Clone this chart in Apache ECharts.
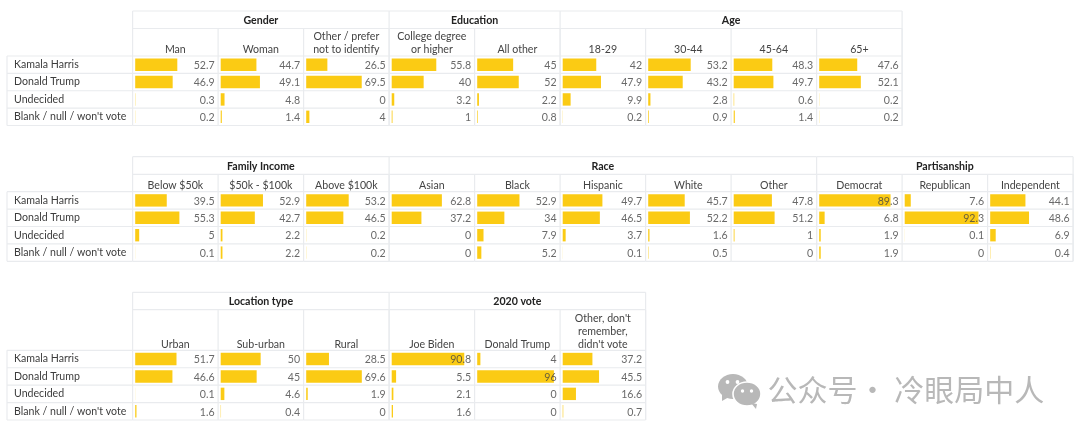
<!DOCTYPE html>
<html>
<head>
<meta charset="utf-8">
<style>html,body{margin:0;padding:0;background:#fff}#c{width:1080px;height:433px}</style>
<script src="https://cdn.jsdelivr.net/npm/echarts@6/dist/echarts.min.js"></script>
</head>
<body>
<div id="c"></div>
<script>
const rowLabels = ["Kamala Harris", "Donald Trump", "Undecided", "Blank / null / won't vote"];

const genderColumns = ["Man", "Woman", "Other / prefer\nnot to identify"];
const genderValues = [[52.7, 46.9, 0.3, 0.2], [44.7, 49.1, 4.8, 1.4], [26.5, 69.5, 0, 4]];
const educationColumns = ["College degree\nor higher", "All other"];
const educationValues = [[55.8, 40, 3.2, 1], [45, 52, 2.2, 0.8]];
const ageColumns = ["18-29", "30-44", "45-64", "65+"];
const ageValues = [[42, 47.9, 9.9, 0.2], [53.2, 43.2, 2.8, 0.9], [48.3, 49.7, 0.6, 1.4], [47.6, 52.1, 0.2, 0.2]];

const incomeColumns = ["Below $50k", "$50k - $100k", "Above $100k"];
const incomeValues = [[39.5, 55.3, 5, 0.1], [52.9, 42.7, 2.2, 2.2], [53.2, 46.5, 0.2, 0.2]];
const raceColumns = ["Asian", "Black", "Hispanic", "White", "Other"];
const raceValues = [[62.8, 37.2, 0, 0], [52.9, 34, 7.9, 5.2], [49.7, 46.5, 3.7, 0.1], [45.7, 52.2, 1.6, 0.5], [47.8, 51.2, 1, 0]];
const partyColumns = ["Democrat", "Republican", "Independent"];
const partyValues = [[89.3, 6.8, 1.9, 1.9], [7.6, 92.3, 0.1, 0], [44.1, 48.6, 6.9, 0.4]];

const locationColumns = ["Urban", "Sub-urban", "Rural"];
const locationValues = [[51.7, 46.6, 0.1, 1.6], [50, 45, 4.6, 0.4], [28.5, 69.6, 1.9, 0]];
const vote2020Columns = ["Joe Biden", "Donald Trump", "Other, don't\nremember,\ndidn't vote"];
const vote2020Values = [[90.8, 5.5, 2.1, 1.6], [4, 96, 0, 0], [37.2, 45.5, 16.6, 0.7]];

const tables = [
  { top: 11, head: 28.5, body: 56, bottom: 125.5, groups: [
    { name: "Gender", columns: genderColumns, values: genderValues },
    { name: "Education", columns: educationColumns, values: educationValues },
    { name: "Age", columns: ageColumns, values: ageValues } ] },
  { top: 156.7, head: 174.3, body: 191.7, bottom: 261.3, groups: [
    { name: "Family Income", columns: incomeColumns, values: incomeValues },
    { name: "Race", columns: raceColumns, values: raceValues },
    { name: "Partisanship", columns: partyColumns, values: partyValues } ] },
  { top: 292.3, head: 309.7, body: 350.3, bottom: 420, groups: [
    { name: "Location type", columns: locationColumns, values: locationValues },
    { name: "2020 vote", columns: vote2020Columns, values: vote2020Values } ] }
];

const FONT = "Lato";
const FS = 10.6;
const LINE = "#e9ebee";
const BAR = "#FBCB14";
const LABEL_X = 7, COL0 = 132.6, COLW = 85.5;

const grids = [], xAxes = [], yAxes = [], series = [], graphic = [];
const line = (x1, y1, x2, y2) => graphic.push({ type: "line", silent: true, z: 0,
  shape: { x1, y1, x2, y2 }, style: { stroke: LINE, lineWidth: 1.2 } });
const text = (t, x, y, o) => graphic.push({ type: "text", silent: true, z: 5, x, y,
  style: Object.assign({ text: t, fontFamily: FONT, fontSize: FS, fill: "#3c3c3c", align: "center" }, o) });

tables.forEach(tb => {
  const rowH = (tb.bottom - tb.body) / rowLabels.length;
  let col = 0, first = true;
  for (let i = 0; i <= rowLabels.length; i++) line(LABEL_X, tb.body + i * rowH, COL0, tb.body + i * rowH);
  line(LABEL_X, tb.body, LABEL_X, tb.bottom);
  line(COL0, tb.top, COL0, tb.bottom);
  tb.groups.forEach(g => {
    const gl = COL0 + col * COLW, gr = gl + g.columns.length * COLW;
    text(g.name, (gl + gr) / 2, (tb.top + tb.head) / 2 + 0.8, { fontWeight: 700, fontSize: 10.6, fill: "#222", verticalAlign: "middle" });
    line(gl, tb.top, gr, tb.top);
    line(gl, tb.head, gr, tb.head);
    line(gr, tb.top, gr, tb.bottom);
    g.columns.forEach((name, c) => {
      const l = COL0 + col * COLW, r = l + COLW;
      line(l, tb.body, r, tb.body);
      for (let i = 1; i <= rowLabels.length; i++) line(l, tb.body + i * rowH, r, tb.body + i * rowH);
      line(r, tb.head, r, tb.bottom);
      text(name, (l + r) / 2, tb.body + 0.2, { verticalAlign: "bottom", lineHeight: 12.8, fill: "#444" });
      const gi = grids.length;
      grids.push({ left: l + 2.6, top: tb.body, width: COLW - 5.6, height: tb.bottom - tb.body, containLabel: false });
      xAxes.push({ gridIndex: gi, type: "value", min: 0, max: 100, show: false });
      yAxes.push({ gridIndex: gi, type: "category", inverse: true, data: rowLabels,
        axisLine: { show: false }, axisTick: { show: false }, splitLine: { show: false },
        axisLabel: first
          ? { show: true, align: "left", margin: l + 2.6 - 14, padding: [4, 0, 0, 0], fontFamily: FONT, fontSize: FS, color: "#3c3c3c" }
          : { show: false } });
      series.push({ type: "bar", xAxisIndex: gi, yAxisIndex: gi, barWidth: 12.4, z: 2,
        itemStyle: { color: BAR }, silent: true, data: g.values[c] });
      series.push({ type: "scatter", xAxisIndex: gi, yAxisIndex: gi, symbolSize: 0, z: 3, silent: true,
        label: { show: true, position: "left", distance: 0.5, offset: [0, 0.8], formatter: p => String(p.value[2]),
          fontFamily: FONT, fontSize: FS, color: "#444" },
        data: g.values[c].map((v, i) => [100, i, v]) });
      first = false;
      col++;
    });
  });
});

/* watermark */
const WM = "#b8b8b8";
graphic.push(
  { type: "ellipse", silent: true, shape: { cx: 733, cy: 386.5, rx: 15, ry: 12.5 }, style: { fill: WM } },
  { type: "polygon", silent: true, shape: { points: [[722, 392], [729, 397], [722, 401]] }, style: { fill: WM } },
  { type: "circle", silent: true, shape: { cx: 727.5, cy: 382, r: 1.9 }, style: { fill: "#fff" } },
  { type: "circle", silent: true, shape: { cx: 737.5, cy: 382, r: 1.9 }, style: { fill: "#fff" } },
  { type: "ellipse", silent: true, shape: { cx: 747, cy: 394, rx: 14, ry: 12 }, style: { fill: WM, stroke: "#fff", lineWidth: 1.6 } },
  { type: "polygon", silent: true, shape: { points: [[751, 403], [757, 404], [756, 409]] }, style: { fill: WM } },
  { type: "circle", silent: true, shape: { cx: 742.5, cy: 391, r: 1.7 }, style: { fill: "#fff" } },
  { type: "circle", silent: true, shape: { cx: 751.5, cy: 391, r: 1.7 }, style: { fill: "#fff" } },
  { type: "text", silent: true, x: 767.5, y: 389.5, style: { text: "公众号· 冷眼局中人", fontFamily: "Noto Sans CJK SC",
    fontSize: 30, fill: WM, verticalAlign: "middle", align: "left" } }
);

const chart = echarts.init(document.getElementById("c"), null, { renderer: "canvas" });
chart.setOption({ animation: false, backgroundColor: "#fff", grid: grids, xAxis: xAxes, yAxis: yAxes, series, graphic });
</script>
</body>
</html>
